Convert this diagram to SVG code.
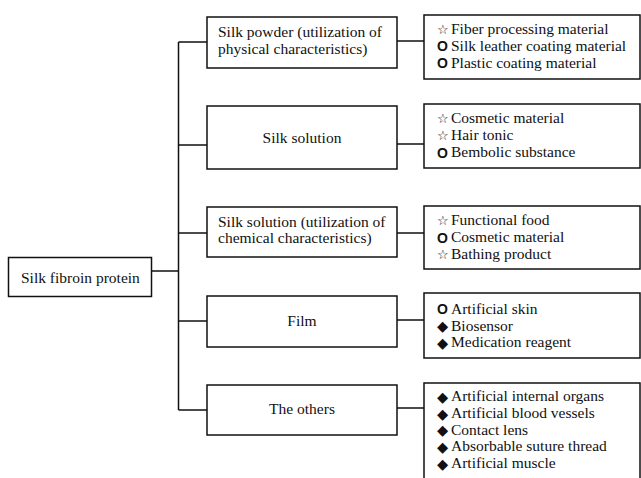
<svg xmlns="http://www.w3.org/2000/svg" width="641" height="478" viewBox="0 0 641 478">
<style>
.box{fill:#fff;stroke:#111;stroke-width:1.5}
.ln{fill:none;stroke:#111;stroke-width:1.5}
text{font-family:"Liberation Serif","Times New Roman",serif;font-size:15.5px;fill:#111}
.c{text-anchor:middle}
.st{font-family:"DejaVu Sans",sans-serif;font-size:13px}
.ci{font-family:"Liberation Sans",Arial,sans-serif;font-weight:bold;font-size:14px}
.di{font-family:"DejaVu Sans",sans-serif;font-size:14.5px}
</style>
<rect width="641" height="478" fill="#fff"/>
<g id="connectors">
<path class="ln" d="M152 271H178.5M178.5 42V410M178.5 42H207M178.5 145H207M178.5 233H207M178.5 321H207M178.5 410H207"/>
<path class="ln" d="M397 41H424M397 144H424M397 233H424M397 320H424M397 408H424"/>
</g>
<g id="root">
<rect class="box" x="8.5" y="257.5" width="143" height="39"/>
<text x="21" y="283">Silk fibroin protein</text>
</g>
<g id="n1">
<rect class="box" x="207" y="17" width="190" height="51"/>
<text x="218" y="37">Silk powder (utilization of</text>
<text x="218" y="54">physical characteristics)</text>
</g>
<g id="n2">
<rect class="box" x="207" y="106" width="190" height="63"/>
<text class="c" x="302" y="143">Silk solution</text>
</g>
<g id="n3">
<rect class="box" x="207" y="207" width="190" height="50"/>
<text x="218" y="226.5">Silk solution (utilization of</text>
<text x="218" y="243">chemical characteristics)</text>
</g>
<g id="n4">
<rect class="box" x="207" y="296" width="190" height="51"/>
<text class="c" x="302" y="325.5">Film</text>
</g>
<g id="n5">
<rect class="box" x="207" y="385" width="190" height="50"/>
<text class="c" x="302" y="414">The others</text>
</g>
<g id="r1">
<rect class="box" x="424" y="15" width="216" height="64"/>
<text class="st" x="437" y="33.5">☆</text><text x="451" y="33.5">Fiber processing material</text>
<text class="ci" x="437" y="51">O</text><text x="451" y="50.5">Silk leather coating material</text>
<text class="ci" x="437" y="68">O</text><text x="451" y="67.5">Plastic coating material</text>
</g>
<g id="r2">
<rect class="box" x="424" y="104" width="216" height="64"/>
<text class="st" x="437" y="123">☆</text><text x="451" y="123">Cosmetic material</text>
<text class="st" x="437" y="140">☆</text><text x="451" y="140">Hair tonic</text>
<text class="ci" x="437" y="157.5">O</text><text x="451" y="157">Bembolic substance</text>
</g>
<g id="r3">
<rect class="box" x="424" y="206" width="216" height="63"/>
<text class="st" x="437" y="225">☆</text><text x="451" y="225">Functional food</text>
<text class="ci" x="437" y="242.5">O</text><text x="451" y="242">Cosmetic material</text>
<text class="st" x="437" y="259">☆</text><text x="451" y="259">Bathing product</text>
</g>
<g id="r4">
<rect class="box" x="424" y="293" width="216" height="65"/>
<text class="ci" x="437" y="314">O</text><text x="451" y="313.5">Artificial skin</text>
<text class="di" x="437" y="331">◆</text><text x="451" y="330.5">Biosensor</text>
<text class="di" x="437" y="347.5">◆</text><text x="451" y="347">Medication reagent</text>
</g>
<g id="r5">
<rect class="box" x="424" y="383" width="216" height="110"/>
<text class="di" x="437" y="401.5">◆</text><text x="451" y="401">Artificial internal organs</text>
<text class="di" x="437" y="418.5">◆</text><text x="451" y="418">Artificial blood vessels</text>
<text class="di" x="437" y="435">◆</text><text x="451" y="434.5">Contact lens</text>
<text class="di" x="437" y="451.5">◆</text><text x="451" y="451">Absorbable suture thread</text>
<text class="di" x="437" y="468.5">◆</text><text x="451" y="468">Artificial muscle</text>
</g>
</svg>
